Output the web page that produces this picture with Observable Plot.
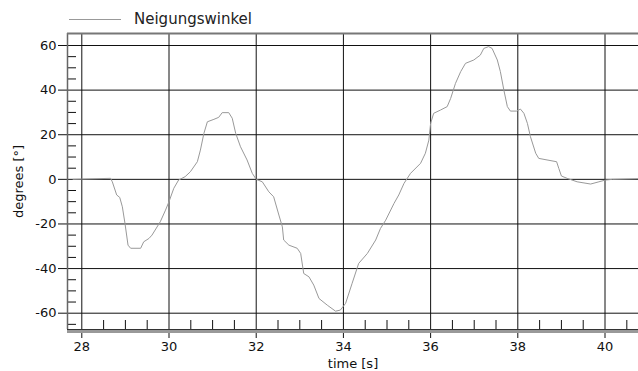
<!DOCTYPE html>
<html><head><meta charset="utf-8">
<script src="https://cdn.jsdelivr.net/npm/d3@7"></script>
<script src="https://cdn.jsdelivr.net/npm/@observablehq/plot@0.6"></script>
<style>
body{margin:0;background:#fff;font-family:"DejaVu Sans",sans-serif;}
#legend{position:relative;height:28px;width:638px;}
#legend .sw{position:absolute;left:69px;top:19px;width:52px;height:0;border-top:1px solid #999;}
#legend .lb{position:absolute;left:134px;top:10px;font-size:15px;line-height:18px;color:#222;}
</style></head><body>
<div id="legend"><span class="sw"></span><span class="lb"></span></div>
<div id="chart"></div>
<script>
const seriesName = "Neigungswinkel";
const xLabel = "time [s]";
const yLabel = "degrees [°]";
const timeS = [27.8,28.66,28.70,28.80,28.87,28.93,28.99,29.06,29.12,29.35,29.42,29.54,29.61,29.80,29.92,30.0,30.11,30.22,30.37,30.49,30.65,30.72,30.80,30.88,31.03,31.14,31.22,31.37,31.45,31.53,31.64,31.79,31.91,32.0,32.14,32.29,32.40,32.52,32.60,32.63,32.75,32.94,33.02,33.09,33.21,33.32,33.44,33.63,33.82,33.93,34.05,34.20,34.35,34.55,34.74,34.85,34.97,35.16,35.27,35.39,35.54,35.77,35.88,35.96,36.0,36.07,36.23,36.38,36.46,36.57,36.69,36.80,36.99,37.14,37.22,37.33,37.41,37.53,37.60,37.68,37.76,37.83,37.97,38.06,38.14,38.22,38.29,38.41,38.48,38.67,38.89,38.94,39.0,39.13,39.36,39.67,39.86,40.01,40.17,40.76];
const degrees = [0,0.45,-1.1,-7.0,-8.1,-12.3,-19.7,-29.5,-30.9,-30.9,-28.0,-26.5,-25.0,-19.0,-13.8,-10.0,-4.0,-0.3,1.2,3.4,7.9,13.1,20.6,25.8,26.9,27.8,29.9,29.9,27.4,20.6,14.6,8.7,2.7,0,-1.1,-5.6,-7.8,-16.0,-21.3,-27.2,-29.5,-30.9,-33.2,-42.2,-43.7,-47.4,-53.4,-56.4,-59.1,-58.6,-55.6,-46.6,-37.7,-33.2,-27.2,-22.0,-18.3,-10.8,-7.0,-1.8,2.7,7.2,11.7,17.6,25.1,29.6,31.1,32.6,36.3,43.0,48.3,52.0,53.5,55.7,58.7,59.5,58.7,53.5,48.3,40.0,32.6,30.6,30.6,31.5,29.6,25.1,19.1,11.7,9.4,8.7,7.9,4.9,1.5,0.45,-1.1,-2.1,-1.1,-0.3,0,0.3];
const xTicks = [28,30,32,34,36,38,40];
const yTicks = [-60,-40,-20,0,20,40,60];
const xMinor = [28.5,29,29.5,30.5,31,31.5,32.5,33,33.5,34.5,35,35.5,36.5,37,37.5,38.5,39,39.5,40.5];
const yMinor = [-65,-55,-50,-45,-35,-30,-25,-15,-10,-5,5,10,15,25,30,35,45,50,55];

document.querySelector("#legend .lb").textContent = seriesName;
const data = timeS.map((t,i)=>({t, v: degrees[i]}));
const xDomain = [27.672, 40.768], yDomain = [-67.31, 65.38];
const chart = Plot.plot({
  width:638, height:343, marginTop:5, marginBottom:42, marginLeft:67, marginRight:0,
  style:{fontFamily:"DejaVu Sans", fontSize:"13px", color:"#111", background:"#fff", overflow:"visible"},
  x:{domain:xDomain}, y:{domain:yDomain},
  marks:[
    Plot.gridX(xTicks,{stroke:"#111", strokeOpacity:1}),
    Plot.gridY(yTicks,{stroke:"#111", strokeOpacity:1}),
    Plot.axisX(xMinor,{tickSize:-9, tickFormat:()=>"", label:null, stroke:"#111"}),
    Plot.axisY(yMinor,{tickSize:-9, tickFormat:()=>"", label:null, stroke:"#111"}),
    Plot.axisX(xTicks,{tickSize:9, tickPadding:3, tickFormat:d=>String(d), label:xLabel, labelAnchor:"center", labelOffset:38, labelArrow:"none", stroke:"#111"}),
    Plot.axisY(yTicks,{tickSize:9, tickPadding:2, tickFormat:d=>String(d), label:yLabel, labelAnchor:"center", labelOffset:54, labelArrow:"none", stroke:"#111"}),
    Plot.line(data,{x:"t", y:"v", stroke:"#999", strokeWidth:1}),
    Plot.ruleX([xDomain[0]], {stroke:"#666", strokeWidth:1.5}),
    Plot.ruleY([yDomain[1]], {stroke:"#777", strokeWidth:2}),
    Plot.ruleY([yDomain[0]], {stroke:"#999", strokeWidth:3, dy:2}),
    Plot.ruleY([yDomain[0]], {stroke:"#333", strokeWidth:1})
  ]
});
document.getElementById("chart").appendChild(chart);
</script>
</body></html>
